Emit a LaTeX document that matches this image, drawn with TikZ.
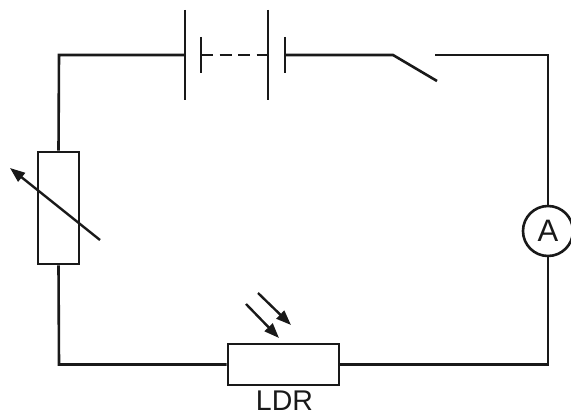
\documentclass[tikz,border=0pt]{standalone}
\usepackage{fontspec}
\setmainfont{Liberation Sans}
\usetikzlibrary{arrows.meta}

\begin{document}
\begin{tikzpicture}[
		x=1pt, y=-1pt,
		line width=2.6pt, color=black!90,
		every node/.style={draw, inner sep=0pt, font=\fontsize{31}{31}\selectfont},
		resistor/.style={rectangle},
		meter/.style={circle, minimum size=50pt},
		light/.style={-{Triangle[length=15pt, width=11pt]}, line width=2.4pt}
	]
  \useasboundingbox (0,0) rectangle (571,414);
  % corners of the loop
  \coordinate (tl) at (59,55);
  \coordinate (tr) at (548,55);
  \coordinate (bl) at (59,364.5);
  \coordinate (br) at (548,364.5);
  % cells and switch
  \coordinate (cell_a) at (185,55);
  \coordinate (cell_a_short) at (201,55);
  \coordinate (cell_b) at (268,55);
  \coordinate (cell_b_short) at (285,55);
  \coordinate (sw_pivot) at (393,55);
  \coordinate (sw_end) at (437,81);
  \coordinate (sw_contact) at (435,55);
  % components
  \node (var_r) [resistor, minimum width=41pt, minimum height=112pt] at (58.5,208) {};
  \node (ldr) [resistor, minimum width=111pt, minimum height=41pt] at (283.5,364.5) {};
  \node (ldr_label) [draw=none, font=\fontsize{28.5}{28.5}\selectfont] at (284.5,400.5) {LDR};
  \node (amm) [meter] at (548,231) {A};
  % wires
  \draw (var_r.north) -- (tl) -- (cell_a);
  \draw (cell_b_short) -- (sw_pivot) -- (sw_end);
  \draw (sw_contact) -- (tr) -- (amm.north);
  \draw (amm.south) -- (br) -- (ldr.east);
  \draw (ldr.west) -- (bl) -- (var_r.south);
  \draw [dash pattern=on 12pt off 6.5pt] (cell_a_short) -- (cell_b);
  % plates
  \draw (185,10) -- (185,100);
  \draw (201,37) -- (201,73);
  \draw (268,10) -- (268,100);
  \draw (285,37) -- (285,73);
  % arrows
  \draw [light] (100,240) -- (10,168);
  \draw [light] (246,304) -- (279,338);
  \draw [light] (258,293) -- (291,325);
\end{tikzpicture}
\end{document}
